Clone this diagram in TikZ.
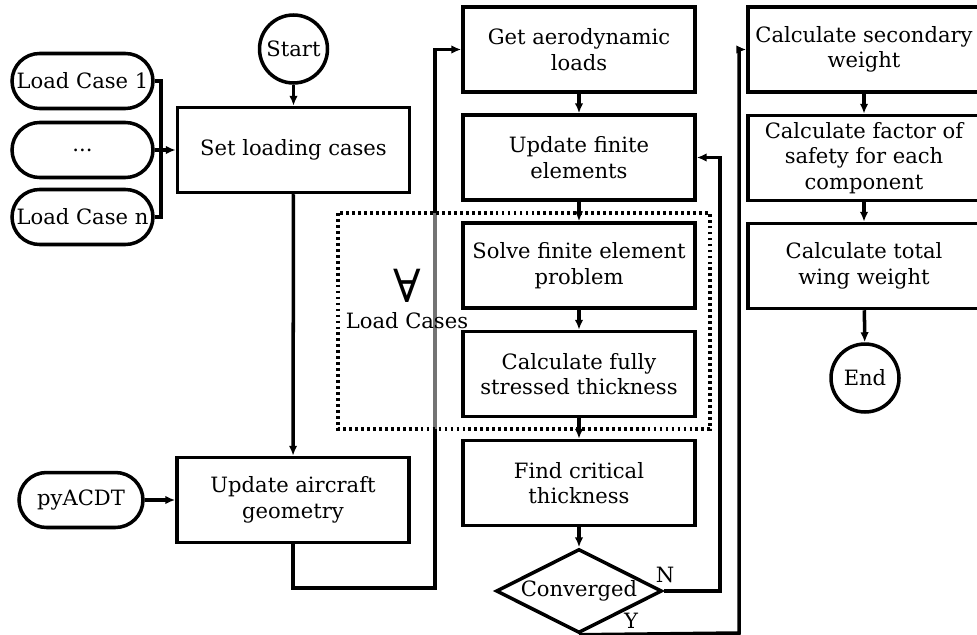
\documentclass[tikz,border=0pt]{standalone}
\usepackage{fontspec}
\setmainfont{DejaVu Serif}
\usepackage{tikz}
\usetikzlibrary{arrows.meta,shapes.geometric,shapes.misc}
\tikzset{
  wfbox/.style={draw=black, line width=2pt, fill=white, align=center, minimum width=4.64cm, minimum height=1.7cm, inner sep=2pt},
  wfterm/.style={draw=black, circle, line width=2pt, fill=white, minimum size=1.36cm, inner sep=0pt},
  wfcase/.style={draw=black, rounded rectangle, line width=2pt, fill=white, minimum width=2.82cm, minimum height=1.1cm, inner sep=0pt},
  wfdecide/.style={draw=black, diamond, aspect=2, line width=2pt, fill=white, minimum width=3.32cm, minimum height=1.68cm, inner sep=0pt},
  wfline/.style={-{Latex[length=2mm,width=1.7mm]}, line width=2pt},
  wfplain/.style={line width=2pt}
}

\begin{document}
\begin{tikzpicture}[x=0.02cm,y=-0.02cm,font=\fontsize{12}{14.5}\selectfont]
  \useasboundingbox (0,0) rectangle (977,635);

  % left column
  \node[wfterm] (start) at (293.5,49) {Start};
  \node[wfbox] (setcases) at (293.5,150) {Set loading cases};
  \node[wfcase] (lc1) at (82.5,81) {Load Case 1};
  \node[wfcase] (lcdots) at (82.5,150) {...};
  \node[wfcase] (lcn) at (82.5,217) {Load Case n};
  \coordinate (bus) at (161,150);
  \node[wfbox] (updgeom) at (293,500) {Update aircraft\\geometry};
  \node[wfcase, minimum width=2.48cm] (pyacdt) at (81,500) {pyACDT};

  \draw[wfplain] (lc1.east) -| (bus);
  \draw[wfplain] (lcn.east) -| (bus);
  \draw[wfline] (lcdots) -- (setcases);
  \draw[wfline] (start) -- (setcases);
  \draw[wfline] (setcases) -- (updgeom);
  \draw[wfline] (pyacdt) -- (updgeom);

  % middle column
  \node[wfbox] (getaero) at (579,49.5) {Get aerodynamic\\loads};
  \coordinate (geomturn) at (435,588);
  \draw[wfline] (updgeom.south) |- (geomturn) |- (getaero.west);

  \draw[line width=1.8pt, dash pattern=on 1.6pt off 1.8pt, fill=white, fill opacity=0.45] (338,213) rectangle (710,429);
  \node[font=\fontsize{26}{26}\selectfont] (forallsym) at (407,286) {∀};
  \node (lcaselabel) at (407,321) {Load Cases};

  \node[wfbox] (updfe) at (579,157.5) {Update finite\\elements};
  \node[wfbox] (solvefe) at (579,265.5) {Solve finite element\\problem};
  \node[wfbox] (fullystr) at (579,374) {Calculate fully\\stressed thickness};
  \node[wfbox] (critical) at (579,483) {Find critical\\thickness};
  \node[wfdecide] (converged) at (579,591) {Converged};

  \draw[wfline] (getaero) -- (updfe);
  \draw[wfline] (updfe) -- (solvefe);
  \draw[wfline] (solvefe) -- (fullystr);
  \draw[wfline] (fullystr) -- (critical);
  \draw[wfline] (critical) -- (converged);

  % right column
  \node[wfbox] (secweight) at (864,49.5) {Calculate secondary\\weight};
  \node[wfbox] (safety) at (864,158) {Calculate factor of\\safety for each\\component};
  \node[wfbox] (totalwt) at (864,266) {Calculate total\\wing weight};
  \node[wfterm] (endnode) at (865,378) {End};

  \draw[wfline] (secweight) -- (safety);
  \draw[wfline] (safety) -- (totalwt);
  \draw[wfline] (totalwt) -- (endnode);

  % decision branches
  \coordinate (nturn) at (720,591);
  \coordinate (yturn) at (739,633);
  \draw[wfline] (converged.east) -- (nturn) |- (updfe.east);
  \draw[wfline] (converged.south) -- (yturn) |- (secweight.west);
  \node (nlabel) at (665,575) {N};
  \node (ylabel) at (631,621) {Y};
\end{tikzpicture}
\end{document}
